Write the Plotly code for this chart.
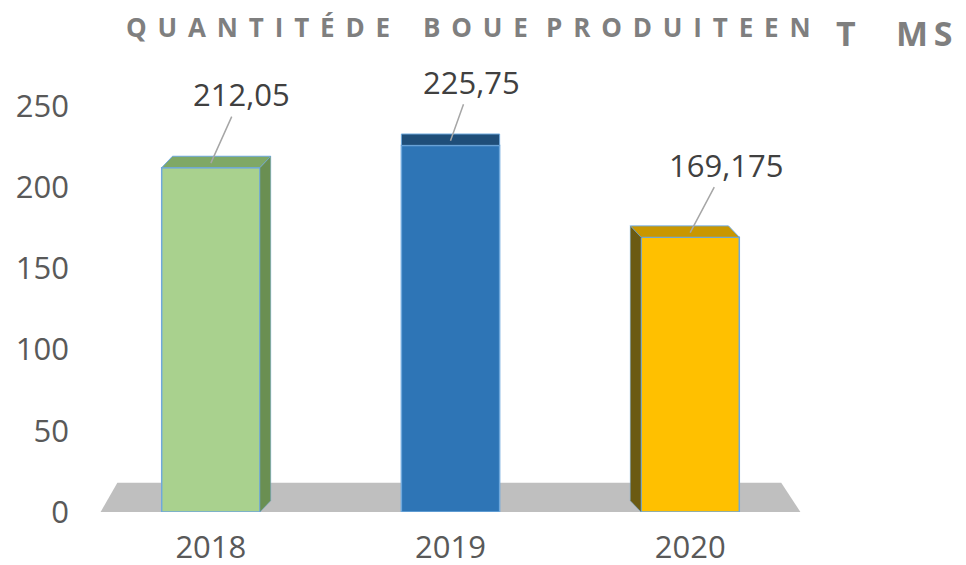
import plotly.graph_objects as go

# data
years = ["2018", "2019", "2020"]
boue = [212.05, 225.75, 169.175]
y_ticks = [0, 50, 100, 150, 200, 250]

title_words = ["QUANTITÉDE", "BOUE", "PRODUITEEN"]
unit_words = ["T", "MS"]

# styles
front_cols = ["#a9d18e", "#2e75b6", "#ffc000"]
top_cols = ["#7fa866", "#1f4e79", "#c99700"]
side_cols = ["#6a8f52", "#1f4e79", "#6b5a12"]
edge_col = "#6fa8dc"

# page has an 8px body margin, so the figure is drawn 8px smaller
W, H = 958, 557
OFF = 8
L, R, T, B = 83, 156, 98, 53
pw, ph = W - L - R, H - T - B


def px(xp):
    return (xp - OFF - L) / pw


def py(yp):
    return 1 - (yp - OFF - T) / ph


pos = list(range(len(years)))
bw = 0.41
depth_y = 7.0

fig = go.Figure()
fig.add_trace(go.Bar(
    x=pos, y=boue, width=bw,
    marker=dict(color=front_cols, line=dict(color=edge_col, width=1.5)),
    hoverinfo="skip", showlegend=False,
))

shapes = []
# grey floor under the bars
shapes.append(dict(type="path", xref="x", yref="y", layer="below",
                   path="M -0.46,0 L 2.46,0 L 2.38,18 L -0.39,18 Z",
                   fillcolor="#bfbfbf", line=dict(width=0)))

for i, v in enumerate(boue):
    dx = (1 - pos[i]) * 0.045
    x0 = pos[i] - bw / 2
    x1 = pos[i] + bw / 2
    # top face
    shapes.append(dict(type="path", xref="x", yref="y", layer="above",
                       path=f"M {x0},{v} L {x1},{v} L {x1+dx},{v+depth_y} L {x0+dx},{v+depth_y} Z",
                       fillcolor=top_cols[i], line=dict(color=edge_col, width=1)))
    # side face
    if dx != 0:
        xs = x1 if dx > 0 else x0
        shapes.append(dict(type="path", xref="x", yref="y", layer="above",
                           path=f"M {xs},0 L {xs},{v} L {xs+dx},{v+depth_y} L {xs+dx},{depth_y} Z",
                           fillcolor=side_cols[i], line=dict(color=edge_col, width=0.5)))

label_off = [(31, -69), (21, -59), (36, -68)]
annotations = []
for i, v in enumerate(boue):
    annotations.append(dict(
        x=pos[i], y=v + depth_y * 0.4, xref="x", yref="y",
        text=str(v).replace(".", ","),
        showarrow=True, arrowhead=0, arrowwidth=1.5, arrowcolor="#a6a6a6",
        ax=label_off[i][0], ay=label_off[i][1],
        font=dict(family="Open Sans", size=31, color="#404040"),
    ))

# title, letter spaced
sp = "\u2005\u2006"
title_x = [124, 421, 544]
for w, x in zip(title_words, title_x):
    annotations.append(dict(
        x=px(x), y=py(27), xref="paper", yref="paper",
        xanchor="left", yanchor="middle", showarrow=False,
        text="<b>" + sp.join(w) + "</b>",
        font=dict(family="Open Sans", size=26, color="#7f7f7f"),
    ))
unit_x = [834, 894]
for w, x in zip(unit_words, unit_x):
    annotations.append(dict(
        x=px(x), y=py(33), xref="paper", yref="paper",
        xanchor="left", yanchor="middle", showarrow=False,
        text="<b>" + "\u2006".join(w) + "</b>",
        font=dict(family="Open Sans", size=34, color="#7f7f7f"),
    ))

fig.update_layout(
    width=W, height=H,
    margin=dict(l=L, r=R, t=T, b=B),
    paper_bgcolor="white", plot_bgcolor="white",
    shapes=shapes, annotations=annotations,
    font=dict(family="Open Sans", size=31, color="#595959"),
)
fig.update_xaxes(range=[-0.5, 2.5], tickvals=pos, ticktext=years,
                 showgrid=False, zeroline=False, showline=False,
                 ticks="", ticklabelstandoff=14, automargin=False)
fig.update_yaxes(range=[0, 250], tickvals=y_ticks,
                 showgrid=False, zeroline=False, showline=False,
                 ticks="", ticklabelstandoff=21, automargin=False)

fig.write_html("out.html")
